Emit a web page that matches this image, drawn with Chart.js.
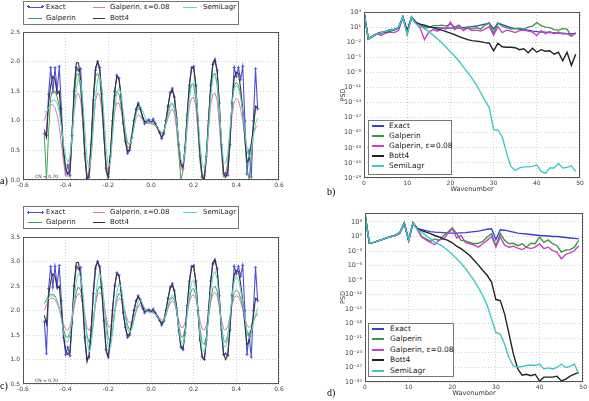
<!DOCTYPE html>
<html><head><meta charset="utf-8">
<script src="https://cdn.jsdelivr.net/npm/chart.js@4.4.1/dist/chart.umd.min.js"></script>
<style>
html,body{margin:0;padding:0;background:#fff;}
body{width:589px;height:401px;position:relative;overflow:hidden;font-family:"DejaVu Sans",sans-serif;}
canvas{position:absolute;}
.leg{position:absolute;background:#fff;border:1px solid #777;box-sizing:border-box;}
.li{position:absolute;color:#222;white-space:nowrap;}
.ls{position:absolute;}
.pl{position:absolute;font-family:"Liberation Serif",serif;font-size:10px;line-height:10px;color:#000;}
.cn{position:absolute;font-size:4.5px;line-height:5px;color:#333;white-space:nowrap;}
</style></head><body>
<canvas id="ca" width="295" height="195" style="left:0;top:0"></canvas>
<canvas id="cb" width="289" height="200" style="left:300px;top:0"></canvas>
<canvas id="cc" width="295" height="200" style="left:0;top:200px"></canvas>
<canvas id="cd" width="289" height="201" style="left:300px;top:200px"></canvas>
<div class="pl" style="left:0;top:176px">a)</div>
<div class="pl" style="left:327px;top:187px">b)</div>
<div class="pl" style="left:0;top:381px">c)</div>
<div class="pl" style="left:327px;top:388px">d)</div>
<div class="cn" style="left:35px;top:173.5px">CN = 0.70</div>
<div class="cn" style="left:35px;top:377.5px">CN = 0.70</div>
<div id="legs"></div>
<script>
// ---------- shared ----------
const seriesNames = ['Exact', 'Galperin', 'Galperin, \u03b5=0.08', 'Bott4', 'SemiLagr'];
const waveColors = ['#4c4cd4', '#45a060', '#dc78b8', '#333333', '#5cd6c6'];
const psdColors = ['#3c3cdc', '#3a9a3a', '#c840c8', '#222222', '#40c8c8'];

// x positions for panels a) and c)
const xPos = [
-0.50,-0.49,-0.48,-0.47,-0.46,-0.45,-0.44,-0.43,-0.42,-0.41,
-0.40,-0.39,-0.38,-0.37,-0.36,-0.35,-0.34,-0.33,-0.32,-0.31,
-0.30,-0.29,-0.28,-0.27,-0.26,-0.25,-0.24,-0.23,-0.22,-0.21,
-0.20,-0.19,-0.18,-0.17,-0.16,-0.15,-0.14,-0.13,-0.12,-0.11,
-0.10,-0.09,-0.08,-0.07,-0.06,-0.05,-0.04,-0.03,-0.02,-0.01,
0.00,0.01,0.02,0.03,0.04,0.05,0.06,0.07,0.08,0.09,
0.10,0.11,0.12,0.13,0.14,0.15,0.16,0.17,0.18,0.19,
0.20,0.21,0.22,0.23,0.24,0.25,0.26,0.27,0.28,0.29,
0.30,0.31,0.32,0.33,0.34,0.35,0.36,0.37,0.38,0.39,
0.40,0.41,0.42,0.43,0.44,0.45,0.46,0.47,0.48,0.49,
0.50];
const xTicksWave = [-0.6, -0.4, -0.2, 0.0, 0.2, 0.4, 0.6];
const yTicksA = [0.0, 0.5, 1.0, 1.5, 2.0, 2.5];
const yTicksC = [0.5, 1.0, 1.5, 2.0, 2.5, 3.0, 3.5];

// ---------- panel a ----------
const aExact = [
0.78,0.75,1.45,1.90,1.48,1.90,1.50,1.92,1.20,0.45,
0.10,0.25,0.08,0.75,1.50,1.90,1.85,1.88,1.20,0.45,
0.02,0.05,0.60,1.35,1.85,2.00,1.90,1.45,0.80,0.20,
0.05,0.40,1.00,1.50,1.77,1.72,1.40,0.95,0.65,0.45,
0.50,0.72,1.00,1.20,1.30,1.22,1.05,0.95,1.00,1.02,
0.97,1.03,0.95,0.88,0.80,0.70,0.78,1.00,1.25,1.48,
1.55,1.40,1.05,0.60,0.25,0.20,0.55,1.10,1.60,1.90,
1.92,1.60,1.00,0.40,0.05,0.00,0.40,1.00,1.60,1.95,
2.00,1.85,1.30,0.60,0.10,0.12,0.08,0.60,1.30,1.90,
1.75,1.90,1.70,1.92,1.00,0.10,0.50,0.05,1.00,1.88,
1.20];
const aGalperin = [
0.75,0.00,0.80,1.40,1.52,1.50,1.40,1.25,0.90,0.45,
0.15,0.10,0.30,0.85,1.40,1.78,1.80,1.55,1.00,0.40,
0.05,0.15,0.70,1.35,1.75,1.80,1.70,1.30,0.70,0.15,
0.00,0.45,1.00,1.40,1.50,1.45,1.25,0.95,0.70,0.55,
0.55,0.70,0.95,1.15,1.20,1.18,1.08,1.00,0.98,0.97,
0.96,0.95,0.92,0.88,0.82,0.78,0.82,0.98,1.15,1.28,
1.30,1.20,0.90,0.45,0.00,0.15,0.60,1.15,1.50,1.62,
1.60,1.35,0.85,0.30,0.02,0.10,0.50,1.05,1.55,1.78,
1.80,1.60,1.10,0.50,0.05,0.05,0.30,0.80,1.30,1.60,
1.65,1.60,1.45,1.15,0.70,0.20,0.00,0.40,0.90,1.20,
1.25];
const aGalperinEps = [
1.00,1.12,1.22,1.27,1.27,1.22,1.10,0.90,0.60,0.30,
0.08,0.05,0.25,0.70,1.15,1.42,1.47,1.35,1.00,0.50,
0.10,0.05,0.40,0.95,1.35,1.47,1.42,1.15,0.70,0.25,
0.10,0.35,0.80,1.15,1.30,1.30,1.18,0.98,0.78,0.62,
0.60,0.72,0.90,1.05,1.10,1.08,1.02,0.98,0.96,0.95,
0.95,0.94,0.92,0.88,0.84,0.80,0.82,0.92,1.05,1.15,
1.20,1.12,0.88,0.50,0.20,0.15,0.45,0.90,1.25,1.38,
1.40,1.25,0.85,0.40,0.08,0.05,0.35,0.85,1.28,1.45,
1.47,1.35,0.95,0.45,0.10,0.05,0.25,0.70,1.10,1.32,
1.38,1.35,1.20,1.00,0.75,0.55,0.50,0.62,0.78,0.88,
0.92];
const aBott4 = [
0.85,0.72,1.30,1.60,1.75,1.70,1.45,1.50,1.00,0.50,
0.20,0.10,0.15,0.80,1.55,1.98,1.98,1.70,1.10,0.40,
0.00,0.10,0.65,1.40,1.90,2.00,1.85,1.35,0.70,0.15,
0.05,0.45,1.05,1.50,1.75,1.70,1.40,0.95,0.65,0.48,
0.52,0.75,1.00,1.18,1.28,1.20,1.08,0.98,0.98,1.00,
0.98,1.00,0.95,0.88,0.80,0.72,0.80,1.00,1.25,1.45,
1.52,1.38,1.05,0.60,0.28,0.22,0.55,1.10,1.60,1.88,
1.90,1.60,1.00,0.40,0.05,0.02,0.42,1.02,1.60,1.98,
2.05,1.85,1.30,0.60,0.12,0.05,0.15,0.65,1.30,1.72,
1.82,1.80,1.55,1.20,0.70,0.30,0.35,0.60,0.90,1.25,
1.22];
const aSemiLagr = [
1.15,1.15,1.22,1.30,1.35,1.35,1.30,1.15,0.90,0.60,
0.38,0.30,0.40,0.75,1.20,1.55,1.72,1.68,1.35,0.85,
0.35,0.20,0.40,0.90,1.40,1.70,1.75,1.55,1.05,0.50,
0.22,0.30,0.75,1.20,1.48,1.55,1.45,1.15,0.85,0.65,
0.60,0.68,0.88,1.10,1.22,1.25,1.18,1.08,1.00,0.98,
0.97,0.96,0.93,0.88,0.84,0.80,0.82,0.95,1.10,1.25,
1.30,1.25,1.00,0.65,0.35,0.28,0.50,0.95,1.38,1.60,
1.65,1.50,1.10,0.60,0.25,0.18,0.40,0.90,1.40,1.72,
1.80,1.65,1.20,0.70,0.30,0.28,0.45,0.85,1.30,1.55,
1.60,1.55,1.40,1.15,0.80,0.50,0.38,0.50,0.75,0.95,
1.05];

// ---------- panel c ----------
const cExact = [
1.77,1.12,2.45,2.90,2.48,2.90,2.50,2.92,2.20,1.45,
1.10,1.25,1.08,1.75,2.50,2.90,2.85,2.88,2.20,1.45,
1.02,1.05,1.60,2.35,2.85,3.00,2.90,2.45,1.80,1.20,
1.05,1.40,2.00,2.50,2.77,2.72,2.40,1.95,1.65,1.45,
1.50,1.72,2.00,2.20,2.30,2.22,2.05,1.95,2.00,2.02,
1.97,2.03,1.95,1.88,1.80,1.70,1.78,2.00,2.25,2.48,
2.55,2.40,2.05,1.60,1.25,1.20,1.55,2.10,2.60,2.90,
2.92,2.60,2.00,1.40,1.05,1.00,1.40,2.00,2.60,2.95,
3.00,2.85,2.30,1.60,1.10,1.12,1.08,1.60,2.30,2.90,
2.75,2.90,2.70,2.92,2.00,1.10,1.50,1.05,2.00,2.88,
2.20];
const cGalperin = [
2.15,2.22,2.30,2.33,2.33,2.30,2.20,2.05,1.85,1.62,
1.47,1.45,1.55,1.80,2.10,2.38,2.48,2.42,2.20,1.85,
1.50,1.35,1.45,1.75,2.15,2.42,2.50,2.42,2.15,1.75,
1.42,1.40,1.60,1.95,2.25,2.35,2.30,2.12,1.90,1.70,
1.60,1.65,1.80,1.98,2.10,2.15,2.12,2.05,2.00,1.98,
1.97,1.96,1.94,1.90,1.82,1.75,1.78,1.90,2.08,2.22,
2.27,2.20,1.98,1.70,1.48,1.45,1.62,1.95,2.25,2.42,
2.45,2.32,2.00,1.62,1.35,1.30,1.48,1.85,2.22,2.45,
2.50,2.40,2.10,1.72,1.40,1.35,1.50,1.82,2.15,2.37,
2.42,2.38,2.25,2.05,1.80,1.58,1.50,1.60,1.78,1.90,
1.95];
const cGalperinEps = [
2.00,2.12,2.20,2.25,2.25,2.22,2.15,2.02,1.88,1.72,
1.62,1.60,1.68,1.85,2.08,2.28,2.35,2.30,2.15,1.90,
1.65,1.60,1.68,1.88,2.15,2.33,2.37,2.30,2.10,1.85,
1.66,1.68,1.80,2.00,2.18,2.25,2.22,2.10,1.95,1.80,
1.75,1.78,1.88,2.00,2.08,2.10,2.08,2.02,1.98,1.97,
1.96,1.95,1.93,1.90,1.85,1.80,1.82,1.90,2.05,2.15,
2.20,2.15,2.00,1.80,1.66,1.65,1.75,1.98,2.18,2.30,
2.32,2.25,2.02,1.78,1.62,1.60,1.70,1.92,2.18,2.33,
2.37,2.30,2.08,1.82,1.63,1.60,1.68,1.88,2.12,2.27,
2.30,2.28,2.18,2.02,1.85,1.70,1.65,1.70,1.80,1.88,
1.90];
const cBott4 = [
1.90,1.72,2.30,2.60,2.75,2.70,2.45,2.50,2.00,1.50,
1.20,1.10,1.15,1.80,2.55,2.98,2.98,2.70,2.10,1.40,
0.95,1.10,1.65,2.40,2.90,3.00,2.85,2.35,1.70,1.15,
1.05,1.45,2.05,2.50,2.75,2.70,2.40,1.95,1.65,1.48,
1.52,1.75,2.00,2.18,2.28,2.20,2.08,1.98,1.98,2.00,
1.98,2.00,1.95,1.88,1.80,1.72,1.80,2.00,2.25,2.45,
2.52,2.38,2.05,1.60,1.28,1.22,1.55,2.10,2.60,2.88,
2.90,2.60,2.00,1.40,1.05,1.00,1.42,2.02,2.60,2.98,
3.05,2.85,2.30,1.60,1.12,1.00,1.10,1.65,2.30,2.72,
2.82,2.80,2.55,2.20,1.70,1.30,1.35,1.60,1.90,2.25,
2.22];
const cSemiLagr = [
2.15,2.18,2.25,2.30,2.30,2.28,2.20,2.05,1.82,1.55,
1.38,1.35,1.50,1.85,2.25,2.58,2.75,2.70,2.40,1.90,
1.40,1.15,1.30,1.75,2.25,2.62,2.75,2.60,2.15,1.60,
1.25,1.22,1.55,2.00,2.38,2.55,2.48,2.20,1.85,1.62,
1.55,1.62,1.82,2.05,2.18,2.22,2.15,2.05,1.98,1.97,
1.96,1.95,1.93,1.88,1.82,1.78,1.80,1.92,2.10,2.25,
2.32,2.25,2.00,1.65,1.38,1.30,1.50,1.95,2.35,2.58,
2.62,2.45,2.00,1.50,1.20,1.15,1.40,1.90,2.40,2.72,
2.80,2.65,2.20,1.70,1.30,1.25,1.45,1.85,2.30,2.60,
2.70,2.62,2.42,2.15,1.85,1.55,1.42,1.55,1.75,1.92,
2.05];

// ---------- PSD panels b) and d) ----------
const wavenumber = [0,1,2,3,4,5,6,7,8,9,10,11,12,13,14,15,16,17,18,19,20,21,22,23,24,25,26,27,28,29,30,31,32,33,34,35,36,37,38,39,40,41,42,43,44,45,46,47,48,49];
const xTicksPSD = [0, 10, 20, 30, 40, 50];
const yTicksB = [1e4,1e1,1e-2,1e-5,1e-8,1e-11,1e-14,1e-17,1e-20,1e-23,1e-26,1e-29];
const yTicksD = [1e3,1e0,1e-3,1e-6,1e-9,1e-12,1e-15,1e-18,1e-21,1e-24,1e-27,1e-30];

const bExact = [1e4,4e-2,1.6e-1,5e-1,1,1.26,2,3.2,10,1e3,1.6,1e3,100,25,12.6,10,8,8,6.3,6.3,6.3,6.3,6.3,8,10,12.6,16,25,40,63,4,63,32,16,8,5,4,3.2,2.5,1.6,1.26,1,1,0.8,0.8,0.63,0.63,0.5,0.5,0.5];
const bGalperin = [1e4,4e-2,1.6e-1,5e-1,6.3e-1,1.6,3.2,4,6.3,1e3,4e-1,1e3,63,20,6.3,8,20,20,25,16,40,10,25,3.2,10,4,8,4,25,63,5e-1,63,16,8,4,5,6.3,4,10,16,80,20,10,8,3.2,2.5,5,4,1.6e-1,6.3e-1];
const bGalperinEps = [1e4,4e-2,1.26e-1,4e-1,2.5e-1,6.3e-1,1,8e-1,2,1e3,5e-1,8e2,63,6.3,3.2e-2,1,3.2,1.6,8,4,100,3.2,16,2,6.3,2,2.5,1.6,4,12.6,2.5e-1,12.6,8e-1,2.5,1.6,8e-1,2,2.5,1.6,1,2e-1,2,5e-1,1.26,5e-1,1,4e-1,5e-1,1.6e-1,8e-1];
const bBott4 = [1e4,4e-2,1.6e-1,5e-1,8e-1,1,1.6,2.5,6.3,1e3,1.6,1e3,80,40,25,12.6,8,4,2.5,1.26,6.3e-1,3.2e-1,1.26e-1,6.3e-2,3.2e-2,2e-2,1.6e-2,1.26e-2,8e-3,6.3e-3,2e-4,6.3e-3,1.26e-3,1e-3,1e-3,8e-4,3.2e-4,5e-4,8e-5,6.3e-4,1e-4,3.2e-4,1.6e-4,2e-4,4e-5,1e-4,2e-6,1e-4,2.5e-7,4e-5];
const bSemiLagr = [1e4,4e-2,1.6e-1,5e-1,8e-1,1.26,2,3.2,8,1e3,4e-1,1e3,50,16,5,1.26,2.5e-1,5e-2,8e-3,1e-3,1.26e-4,1.6e-5,1.6e-6,1.26e-7,1e-8,6.3e-10,3.2e-11,1e-12,2.5e-14,1e-15,4e-20,3.2e-20,1.6e-21,1e-24,2e-27,3.2e-28,1e-27,1.6e-27,1.6e-27,2e-27,4e-27,2e-28,8e-29,1e-27,1e-27,8e-27,1e-27,1.26e-27,2.5e-27,2e-28];

const dExact = [4e4,4e-2,6.3e-2,1.26e-1,2.5e-1,5e-1,1,2,6.3,630,1.6e-1,630,40,25,16,10,8,7,6.3,5,5,5,5.6,6.3,8,10,12.6,20,32,40,2.5e-1,25,20,12.6,8,5,4,3.2,2.5,2,1.6,1.4,1.26,1,1,8e-1,6.3e-1,5e-1,4e-1,3.2e-1];
const dGalperin = [4e4,4e-2,6.3e-2,1.26e-1,2.5e-1,5e-1,1,2,6.3,630,1.6e-1,630,32,1,3.2e-1,1e-1,3.2e-1,1.6e-1,1.6,8,63,4,1.6e-1,1.26e-1,6.3e-2,3.2e-2,4e-2,1e-1,8e-1,4,1.26e-2,4,1.6e-1,3.2e-2,4e-2,1.26e-2,3.2e-2,6.3e-3,4e-2,3.2e-2,8e-1,6.3e-2,2e-1,3.2e-2,1.26e-2,6.3e-4,1.6e-3,2e-3,6.3e-3,1.6e-1];
const dGalperinEps = [4e4,4e-2,6.3e-2,1.26e-1,2.5e-1,5e-1,1,1.6,4,500,1.26e-1,500,25,8e-1,2e-1,6.3e-2,2e-2,2e-1,3.2e-1,4,40,5e-1,1.6,6.3e-2,3.2e-2,1.6e-2,6.3e-3,3.2e-2,1.6e-1,1,6.3e-3,8e-1,1.6e-2,6.3e-3,1e-2,4e-3,2e-3,6.3e-3,3.2e-3,6.3e-3,3.2e-2,3.2e-3,6.3e-3,1.26e-3,6.3e-4,2.5e-5,2e-4,4e-4,1.26e-3,1.26e-2];
const dBott4 = [4e4,4e-2,6.3e-2,1.26e-1,2.5e-1,5e-1,1,2,6.3,630,1.6e-1,630,40,16,8,4,1.6,8e-1,3.2e-1,1.6e-1,5e-2,1e-2,3.2e-3,6.3e-4,1.26e-4,1.26e-5,1.26e-6,1e-7,1e-8,4e-10,1e-13,6.3e-14,1e-16,8e-21,6.3e-25,5e-28,2.5e-29,4e-29,2e-29,4e-29,1.6e-30,1e-29,1e-29,1e-29,1.6e-29,1.6e-30,4e-30,1.6e-29,4e-29,1e-28];
const dSemiLagr = [4e4,4e-2,6.3e-2,1.26e-1,2.5e-1,5e-1,1,2,6.3,630,1.6e-1,630,25,8,1.6,3.2e-1,6.3e-2,2.5e-2,6.3e-3,1.26e-3,2e-4,2.5e-5,3.2e-6,2.5e-7,1.6e-8,8e-10,2.5e-11,6.3e-13,6.3e-15,1e-17,1.6e-20,8e-21,6.3e-23,1e-25,2e-27,1.26e-27,1.6e-27,2.5e-27,3.2e-27,2.5e-27,5e-27,5e-28,8e-28,5e-28,1e-27,5e-27,1e-27,1.6e-27,5e-27,4e-29];

// ---------- helpers ----------
const FONT = '"DejaVu Sans", sans-serif';
const frame = {id:'frame', afterDraw(c){const a=c.chartArea, x=c.ctx; x.save(); x.strokeStyle='#555'; x.lineWidth=1;
  x.strokeRect(Math.round(a.left)+0.5, Math.round(a.top)+0.5, Math.round(a.right-a.left)-1, Math.round(a.bottom-a.top)-1); x.restore();}};
const SUP = {'0':'\u2070','1':'\u00b9','2':'\u00b2','3':'\u00b3','4':'\u2074','5':'\u2075','6':'\u2076','7':'\u2077','8':'\u2078','9':'\u2079','-':'\u207b'};
function pow10Label(v){const e=Math.round(Math.log10(v)); return '10'+String(e).split('').map(c=>SUP[c]).join('');}
function pts(xs, ys){return ys.map((y,i)=>({x:xs[i], y}));}
function gridOpts(){return {color:'rgba(0,0,0,0.3)', lineWidth:0.6, drawTicks:false};}
const tickFont = {family:FONT, size:6};

function waveChart(id, series, yTicks, yMin, yMax, pad, yW, xH){
  const datasets = series.map((s,i)=>({
    data: pts(xPos, s), borderColor: waveColors[i], backgroundColor: waveColors[i],
    borderWidth: (i===0||i===3)?1.1:1, tension:0, order: 4-i,
    pointRadius: i===0?1.6:0, pointStyle:'cross', pointBorderWidth:0.8, pointBorderColor: waveColors[i]
  }));
  new Chart(document.getElementById(id), {type:'line', data:{datasets}, plugins:[frame],
    options:{responsive:false, animation:false, devicePixelRatio:1, layout:{padding:pad},
      plugins:{legend:{display:false}, tooltip:{enabled:false}},
      scales:{
        x:{type:'linear', min:-0.6, max:0.6, grid:gridOpts(), border:{display:false, dash:[1,2]},
          afterBuildTicks:s=>{s.ticks=xTicksWave.map(v=>({value:v}));}, afterFit:s=>{s.height=xH;},
          ticks:{font:tickFont, color:'#444', padding:2, maxRotation:0, autoSkip:false, callback:v=>v.toFixed(1)}},
        y:{type:'linear', min:yMin, max:yMax, grid:gridOpts(), border:{display:false, dash:[1,2]},
          afterBuildTicks:s=>{s.ticks=yTicks.map(v=>({value:v}));}, afterFit:s=>{s.width=yW;},
          ticks:{font:tickFont, color:'#444', padding:3, autoSkip:false, callback:v=>v.toFixed(1)}}
      }}});
}

function psdChart(id, series, yTicks, yMin, yMax, pad, yW, xH){
  const datasets = series.map((s,i)=>({
    data: pts(wavenumber, s), borderColor: psdColors[i], backgroundColor: psdColors[i],
    borderWidth: 1.4, tension:0, pointRadius:0, order: 4-i
  }));
  new Chart(document.getElementById(id), {type:'line', data:{datasets}, plugins:[frame],
    options:{responsive:false, animation:false, devicePixelRatio:1, layout:{padding:pad},
      plugins:{legend:{display:false}, tooltip:{enabled:false}},
      scales:{
        x:{type:'linear', min:0, max:50, grid:gridOpts(), border:{display:false, dash:[1,2]},
          afterBuildTicks:s=>{s.ticks=xTicksPSD.map(v=>({value:v}));}, afterFit:s=>{s.height=xH;},
          title:{display:true, text:'Wavenumber', font:{family:FONT, size:6.5}, color:'#333', padding:0},
          ticks:{font:tickFont, color:'#444', padding:2, maxRotation:0, autoSkip:false, callback:v=>String(v)}},
        y:{type:'logarithmic', min:yMin, max:yMax, bounds:'data', grid:gridOpts(), border:{display:false, dash:[1,2]},
          afterBuildTicks:s=>{s.ticks=yTicks.map(v=>({value:v}));}, afterFit:s=>{s.width=yW;},
          title:{display:true, text:'PSD', font:{family:FONT, size:6.5}, color:'#333', padding:0},
          ticks:{font:{family:FONT, size:6.5}, color:'#444', padding:3, autoSkip:false, callback:v=>pow10Label(v)}}
      }}});
}

waveChart('ca', [aExact, aGalperin, aGalperinEps, aBott4, aSemiLagr], yTicksA, 0, 2.5, {left:0, top:32, right:16, bottom:0}, 23, 15);
waveChart('cc', [cExact, cGalperin, cGalperinEps, cBott4, cSemiLagr], yTicksC, 0.5, 3.5, {left:0, top:37, right:16, bottom:0}, 23, 16);
psdChart('cb', [bExact, bGalperin, bGalperinEps, bBott4, bSemiLagr], yTicksB, 1e-29, 1e4, {left:39, top:12, right:9, bottom:7}, 25, 15);
psdChart('cd', [dExact, dGalperin, dGalperinEps, dBott4, dSemiLagr], yTicksD, 1e-30, 7e4, {left:39, top:13, right:5, bottom:4}, 26, 15);

// ---------- legends (HTML) ----------
const legs = document.getElementById('legs');
function box(l,t,w,h){const d=document.createElement('div'); d.className='leg'; Object.assign(d.style,{left:l+'px',top:t+'px',width:w+'px',height:h+'px'}); legs.appendChild(d);}
function entry(i, colors, x1, x2, y, tx, fs, lw, markers){
  const ln=document.createElement('div'); ln.className='ls';
  Object.assign(ln.style,{left:x1+'px', top:Math.round(y-lw/2)+'px', width:(x2-x1)+'px', height:lw+'px', background:colors[i]});
  legs.appendChild(ln);
  if(markers){[x1,x2].forEach(mx=>{
    const h=document.createElement('div'); h.className='ls';
    Object.assign(h.style,{left:(mx-1.5)+'px', top:Math.round(y-1)+'px', width:'3px', height:'1px', background:colors[i]});
    const v=document.createElement('div'); v.className='ls';
    Object.assign(v.style,{left:(mx-0.5)+'px', top:Math.round(y-2)+'px', width:'1px', height:'3px', background:colors[i]});
    legs.appendChild(h); legs.appendChild(v);});}
  const t=document.createElement('div'); t.className='li'; t.textContent=seriesNames[i];
  Object.assign(t.style,{left:tx+'px', top:(y-fs*0.62)+'px', fontSize:fs+'px', lineHeight:(fs*1.2)+'px'});
  legs.appendChild(t);
}
// a) legend
box(23,1,216,24);
entry(0, waveColors, 28, 42, 7.3, 46, 7, 1, true);
entry(1, waveColors, 28, 42, 18, 46, 7, 1, false);
entry(2, waveColors, 93, 105, 7.3, 110, 7, 1, false);
entry(3, waveColors, 93, 105, 18, 110, 7, 1, false);
entry(4, waveColors, 183, 197, 7.3, 203, 7, 1, false);
// c) legend
box(23,206,216,23);
entry(0, waveColors, 28, 42, 212.7, 46, 7, 1, true);
entry(1, waveColors, 28, 42, 222.7, 46, 7, 1, false);
entry(2, waveColors, 93, 105, 212.7, 110, 7, 1, false);
entry(3, waveColors, 93, 105, 222.7, 110, 7, 1, false);
entry(4, waveColors, 183, 197, 212.7, 203, 7, 1, false);
// b) legend
box(368,120,84,55);
[126,136,146,155.5,165.5].forEach((y,i)=>entry(i, psdColors, 372, 384, y, 389, 7.5, 2, false));
// d) legend
box(368,323,86,54);
[328.5,339,349.5,360,370.5].forEach((y,i)=>entry(i, psdColors, 372, 384, y, 390, 7.5, 2, false));
</script>
</body></html>
